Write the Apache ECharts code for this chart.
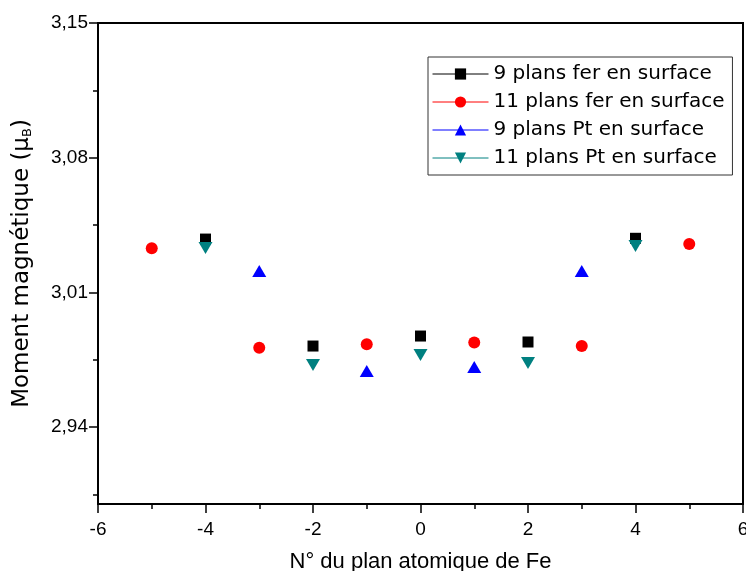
<!DOCTYPE html>
<html>
<head>
<meta charset="utf-8">
<script src="https://cdn.jsdelivr.net/npm/echarts@6/dist/echarts.min.js"></script>
<style>
html,body{margin:0;padding:0;background:#fff;}
#chart{width:746px;height:571px;}
</style>
</head>
<body>
<div id="chart"></div>
<script>
// ---- data ----
const seriesNames = ['9 plans fer en surface', '11 plans fer en surface', '9 plans Pt en surface', '11 plans Pt en surface'];
const xFer9 = [-4, -2, 0, 2, 4];
const yFer9 = [3.0377, 2.9821, 2.9873, 2.9842, 3.0381];
const xFer11 = [-5, -3, -1, 1, 3, 5];
const yFer11 = [3.0329, 2.9812, 2.9830, 2.9840, 2.9821, 3.0351];
const xPt9 = [-3, -1, 1, 3];
const yPt9 = [3.0211, 2.9691, 2.9712, 3.0211];
const xPt11 = [-4, -2, 0, 2, 4];
const yPt11 = [3.0331, 2.9722, 2.9774, 2.9733, 3.0341];
const yMajorTicks = [2.94, 3.01, 3.08, 3.15];
const yMinorTicks = [2.905, 2.975, 3.045, 3.115];
const xMin = -6, xMax = 6, xStep = 2;
const yMin = 2.90, yMax = 3.15;

// ---- layout ----
const W = 746, H = 571;
const gLeft = 98, gRight = 3, gTop = 23, gBottom = 67;
const plotH = H - gTop - gBottom;
const yPix = v => gTop + (yMax - v) / (yMax - yMin) * plotH;

const font = 'Liberation Sans, Arial, sans-serif';
const wideFont = 'DejaVu Sans, sans-serif';
const pair = (xs, ys) => xs.map((x, i) => [x, ys[i]]);

const chart = echarts.init(document.getElementById('chart'), null, {renderer: 'canvas'});

const majStep = yMajorTicks[1] - yMajorTicks[0];
const minStep = yMinorTicks[1] - yMinorTicks[0];

const option = {
  backgroundColor: '#fff',
  animation: false,
  grid: [
    {left: gLeft, right: gRight, top: gTop, bottom: gBottom, show: true, borderColor: '#000', borderWidth: 2, backgroundColor: 'transparent', containLabel: false, outerBoundsMode: 'none'},
    {left: gLeft, right: gRight, top: yPix(yMajorTicks[yMajorTicks.length - 1]), bottom: H - yPix(yMajorTicks[0]), containLabel: false, outerBoundsMode: 'none'},
    {left: gLeft, right: gRight, top: yPix(yMinorTicks[yMinorTicks.length - 1]), bottom: H - yPix(yMinorTicks[0]), containLabel: false, outerBoundsMode: 'none'}
  ],
  xAxis: [
    {
      gridIndex: 0, type: 'value', min: xMin, max: xMax, interval: xStep,
      axisLine: {show: true, onZero: false, lineStyle: {color: '#000', width: 2}},
      axisTick: {show: true, inside: false, length: 9, lineStyle: {color: '#000', width: 1.5}},
      minorTick: {show: true, splitNumber: 2, length: 5, lineStyle: {color: '#000', width: 1.5}},
      axisLabel: {fontSize: 19, color: '#000', fontFamily: font, margin: 16},
      splitLine: {show: false},
      name: 'N° du plan atomique de Fe', nameLocation: 'middle', nameGap: 47,
      nameTextStyle: {fontSize: 22, color: '#000', fontFamily: font}
    },
    {gridIndex: 1, type: 'value', show: false, min: xMin, max: xMax, axisLine: {onZero: false}},
    {gridIndex: 2, type: 'value', show: false, min: xMin, max: xMax, axisLine: {onZero: false}}
  ],
  yAxis: [
    {
      gridIndex: 0, type: 'value', min: yMin, max: yMax,
      axisLine: {show: true, onZero: false, lineStyle: {color: '#000', width: 2}},
      axisTick: {show: false}, axisLabel: {show: false}, splitLine: {show: false},
      name: 'Moment magnétique (μ{sub|B})', nameLocation: 'middle', nameGap: 64,
      nameTextStyle: {fontSize: 23, color: '#000', fontFamily: wideFont,
        rich: {sub: {fontSize: 13, color: '#000', fontFamily: wideFont, verticalAlign: 'bottom', padding: [10, 0, 0, 0]}}}
    },
    {
      gridIndex: 1, type: 'value', min: yMajorTicks[0], max: yMajorTicks[yMajorTicks.length - 1], interval: majStep,
      position: 'left',
      axisLine: {show: false, onZero: false},
      axisTick: {show: true, inside: false, length: 9, lineStyle: {color: '#000', width: 1.5}},
      axisLabel: {fontSize: 19, color: '#000', fontFamily: font, margin: 10,
        formatter: v => v.toFixed(2).replace('.', ',')},
      splitLine: {show: false}
    },
    {
      gridIndex: 2, type: 'value', min: yMinorTicks[0], max: yMinorTicks[yMinorTicks.length - 1], interval: minStep,
      position: 'left',
      axisLine: {show: false, onZero: false},
      axisTick: {show: true, inside: false, length: 5, lineStyle: {color: '#000', width: 1.5}},
      axisLabel: {show: false},
      splitLine: {show: false}
    }
  ],
  legend: {
    show: true, orient: 'vertical', left: 428, top: 57,
    data: seriesNames,
    itemWidth: 56, itemHeight: 14, itemGap: 8, itemTextGap: 2,
    padding: [7, 8, 7, 4],
    borderColor: '#333', borderWidth: 1,
    textStyle: {fontSize: 20, color: '#000', fontFamily: wideFont, lineHeight: 20},
    lineStyle: {opacity: 1, width: 1},
    itemStyle: {opacity: 1}
  },
  series: [
    {name: seriesNames[0], type: 'line', xAxisIndex: 0, yAxisIndex: 0, data: pair(xFer9, yFer9),
      symbol: 'rect', symbolSize: 11, itemStyle: {color: '#000'}, lineStyle: {color: '#000', opacity: 0, width: 1}},
    {name: seriesNames[1], type: 'line', xAxisIndex: 0, yAxisIndex: 0, data: pair(xFer11, yFer11),
      symbol: 'circle', symbolSize: 12, itemStyle: {color: '#ff0000'}, lineStyle: {color: '#ff0000', opacity: 0, width: 1}},
    {name: seriesNames[2], type: 'line', xAxisIndex: 0, yAxisIndex: 0, data: pair(xPt9, yPt9),
      symbol: 'triangle', symbolSize: [14, 12], itemStyle: {color: '#0000ff'}, lineStyle: {color: '#0000ff', opacity: 0, width: 1}},
    {name: seriesNames[3], type: 'line', xAxisIndex: 0, yAxisIndex: 0, data: pair(xPt11, yPt11),
      symbol: 'triangle', symbolRotate: 180, symbolSize: [14, 12], itemStyle: {color: '#008080'}, lineStyle: {color: '#008080', opacity: 0, width: 1}}
  ]
};
chart.setOption(option);
</script>
</body>
</html>
